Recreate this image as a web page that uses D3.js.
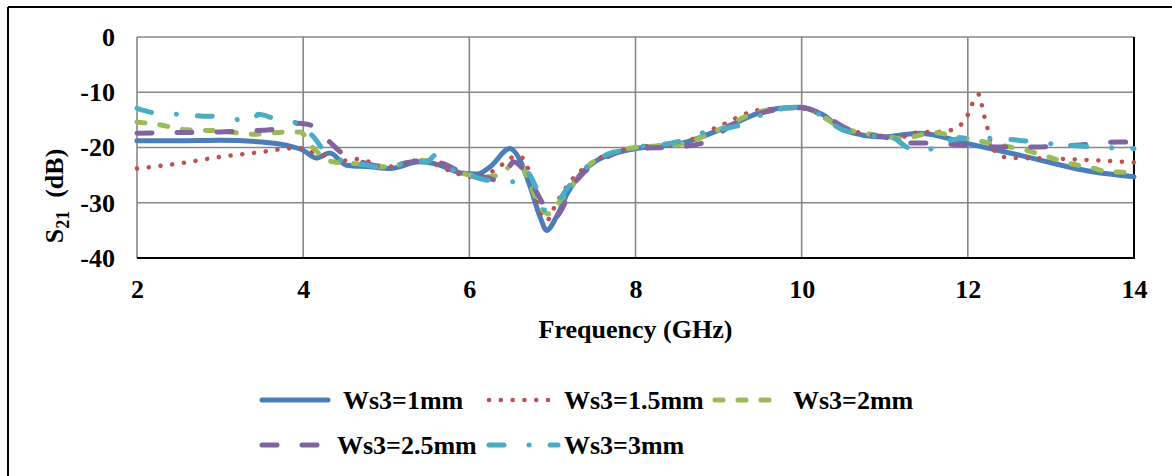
<!DOCTYPE html>
<html>
<head>
<meta charset="utf-8">
<script src="https://cdn.jsdelivr.net/npm/d3@7"></script>
<style>
  html, body { margin: 0; padding: 0; background: #fff; }
  svg { display: block; }
  text { font-family: "Liberation Serif", "Times New Roman", serif; font-weight: bold; fill: #000; }
</style>
</head>
<body>
<svg id="chart" width="1172" height="476"></svg>
<script>
// ---------------- data ----------------
const xTicks = [2, 4, 6, 8, 10, 12, 14];
const yTicks = [0, -10, -20, -30, -40];
const seriesNames = ["Ws3=1mm", "Ws3=1.5mm", "Ws3=2mm", "Ws3=2.5mm", "Ws3=3mm"];
const xTitle = "Frequency (GHz)";

const freq1 = [2, 2.5, 3, 3.5, 3.8, 4.0, 4.16, 4.32, 4.52, 4.8, 5.05, 5.4, 5.6, 5.9, 6.1, 6.25, 6.49, 6.61, 6.73, 6.85, 6.93, 7.05, 7.18, 7.54, 8.0, 8.54, 9.14, 9.53, 9.74, 9.98, 10.26, 10.5, 10.98, 11.42, 12.0, 12.71, 13.5, 14];
const s21_1 = [-18.8, -18.8, -18.7, -19.0, -19.6, -20.5, -21.9, -21.0, -23.2, -23.5, -23.8, -22.6, -23.0, -24.6, -24.8, -23.5, -20.2, -22.3, -27.0, -32.5, -35.0, -32.5, -28.3, -22.3, -20.2, -19.3, -16.0, -13.5, -12.9, -12.7, -14.1, -16.8, -18.1, -17.4, -19.3, -21.7, -24.4, -25.3];

const freq2 = [2, 2.5, 3, 3.5, 3.8, 3.96, 4.1, 4.24, 4.38, 4.65, 5.0, 5.4, 5.85, 6.0, 6.2, 6.35, 6.45, 6.55, 6.65, 6.75, 6.81, 6.93, 7.05, 7.21, 7.5, 8.0, 8.5, 9.0, 9.5, 10.0, 10.5, 11.0, 11.17, 11.3, 11.45, 11.6, 11.75, 11.88, 11.97, 12.03, 12.08, 12.14, 12.17, 12.2, 12.24, 12.27, 12.33, 12.43, 12.6, 13.0, 13.5, 14];
const s21_2 = [-23.8, -22.9, -21.7, -20.8, -20.2, -20.1, -20.8, -21.5, -22.6, -22.1, -23.5, -22.3, -24.7, -25.3, -25.0, -23.5, -22.6, -21.5, -22.0, -26.0, -29.5, -33.2, -30.0, -26.3, -22.5, -20.0, -19.4, -16.2, -13.2, -12.9, -16.5, -18.0, -18.3, -17.6, -17.2, -17.2, -17.0, -16.3, -14.9, -13.1, -11.1, -10.4, -12.4, -14.5, -16.7, -18.7, -20.7, -21.7, -21.9, -22.0, -22.3, -22.7];

const freq3 = [2, 2.24, 2.6, 3.0, 3.4, 3.8, 3.96, 4.12, 4.36, 4.6, 5.0, 5.4, 5.6, 6.0, 6.2, 6.4, 6.5, 6.57, 6.7, 6.85, 6.95, 7.1, 7.5, 8.0, 8.5, 9.0, 9.5, 10.0, 10.5, 11.0, 11.2, 11.6, 11.85, 12.4, 12.7, 12.95, 13.2, 13.5, 13.7, 14];
const s21_3 = [-15.4, -15.8, -16.8, -17.0, -17.6, -17.2, -17.2, -20.1, -22.6, -22.9, -23.5, -22.3, -22.5, -25.0, -25.3, -24.7, -23.0, -22.2, -25.5, -30.7, -32.0, -29.5, -22.5, -20.0, -19.5, -16.8, -13.5, -12.8, -16.5, -18.0, -18.4, -17.3, -18.0, -19.6, -20.5, -21.6, -22.8, -23.7, -24.4, -24.5];

const freq4 = [2, 2.5, 3.0, 3.3, 3.6, 3.9, 4.05, 4.15, 4.32, 4.53, 4.7, 5.0, 5.4, 5.6, 6.0, 6.2, 6.35, 6.45, 6.53, 6.65, 6.77, 6.9, 7.02, 7.12, 7.22, 7.35, 7.6, 8.0, 8.5, 8.78, 8.9, 9.07, 9.5, 10.0, 10.3, 10.55, 10.9, 11.0, 11.2, 11.5, 11.9, 12.35, 12.8, 13.3, 13.8, 14];
const s21_4 = [-17.4, -17.3, -17.2, -17.0, -16.8, -15.6, -15.8, -16.4, -19.0, -21.7, -22.6, -23.5, -22.4, -22.6, -25.0, -25.4, -26.0, -24.5, -22.6, -24.0, -27.0, -30.5, -32.8, -31.0, -27.5, -25.0, -22.2, -20.2, -19.9, -19.3, -18.7, -16.8, -13.8, -12.8, -14.5, -16.6, -17.9, -18.1, -19.2, -19.2, -19.5, -19.9, -19.9, -19.6, -19.0, -19.0];

const freq5 = [2, 2.24, 2.5, 2.76, 3.0, 3.26, 3.4, 3.46, 3.66, 3.93, 4.12, 4.32, 4.53, 4.8, 5.0, 5.3, 5.49, 5.59, 5.68, 5.93, 6.1, 6.25, 6.4, 6.55, 6.68, 6.8, 6.9, 7.05, 7.2, 7.5, 8.0, 8.5, 8.84, 9.1, 9.34, 9.6, 10.0, 10.5, 10.95, 11.1, 11.25, 11.4, 11.5, 11.7, 12.0, 12.2, 12.46, 12.8, 13.2, 13.5, 14];
const s21_5 = [-12.9, -13.8, -14.0, -14.3, -14.4, -15.0, -14.9, -14.0, -14.8, -15.6, -18.0, -21.7, -22.5, -23.3, -23.7, -22.6, -22.6, -21.4, -22.9, -24.7, -25.5, -26.0, -26.1, -26.2, -24.4, -27.1, -31.3, -30.0, -27.0, -22.5, -20.0, -19.0, -17.2, -16.5, -15.6, -13.5, -12.7, -16.8, -18.1, -18.3, -19.8, -20.8, -20.6, -19.1, -18.3, -18.3, -18.5, -19.0, -19.6, -19.9, -20.2];

// ---------------- styles ----------------
const colors = ["#4a7ebb", "#c0504d", "#9bbb59", "#8064a2", "#4bacc6"];
const styles = [
  { w: 5, dash: null },
  { w: 4.5, dash: "0.1 11.7" },
  { w: 5, dash: "8 15" },
  { w: 5, dash: "15 25" },
  { w: 5, dash: "15 25 0.1 21" }
];
const freqs = [freq1, freq2, freq3, freq4, freq5];
const vals = [s21_1, s21_2, s21_3, s21_4, s21_5];

const svg = d3.select("#chart");
const FONT = 26;

// outer frame (top + left visible)
svg.append("line").attr("x1", 8).attr("x2", 1172).attr("y1", 7).attr("y2", 7).attr("stroke", "#000").attr("stroke-width", 2);
svg.append("line").attr("x1", 8).attr("x2", 8).attr("y1", 7).attr("y2", 476).attr("stroke", "#000").attr("stroke-width", 2);

const L = 137, R = 1134, T = 37, B = 258;
const x = d3.scaleLinear().domain([2, 14]).range([L, R]);
const y = d3.scaleLinear().domain([-40, 0]).range([B, T]);

// gridlines
const grid = svg.append("g");
grid.selectAll("line.h").data(yTicks).join("line")
  .attr("x1", L).attr("x2", R).attr("y1", d => y(d)).attr("y2", d => y(d))
  .attr("stroke", "#878787").attr("stroke-width", 1.6);
grid.selectAll("line.v").data(xTicks).join("line")
  .attr("y1", T).attr("y2", B).attr("x1", d => x(d)).attr("x2", d => x(d))
  .attr("stroke", "#878787").attr("stroke-width", 1.6);
// axis lines
svg.append("line").attr("x1", L).attr("x2", R + 1).attr("y1", B).attr("y2", B).attr("stroke", "#000").attr("stroke-width", 2);
svg.append("line").attr("x1", R).attr("x2", R).attr("y1", T).attr("y2", B).attr("stroke", "#000").attr("stroke-width", 2);

// axes labels
const fmt = d => String(d);
const yAxis = svg.append("g").attr("transform", `translate(${L},0)`)
  .call(d3.axisLeft(y).tickValues(yTicks).tickSize(0).tickPadding(22).tickFormat(fmt));
yAxis.select(".domain").remove();
yAxis.selectAll("text").style("font-size", FONT + "px");

const xAxis = svg.append("g").attr("transform", `translate(0,${B})`)
  .call(d3.axisBottom(x).tickValues(xTicks).tickSize(0).tickFormat(fmt));
xAxis.select(".domain").remove();
xAxis.selectAll("text").attr("y", 40).attr("dy", 0).style("font-size", FONT + "px");

svg.append("text").attr("x", (L + R) / 2).attr("y", 338).attr("text-anchor", "middle")
  .style("font-size", FONT + "px").text(xTitle);

// y title with subscript
const yt = svg.append("text").attr("transform", "translate(63,196) rotate(-90)")
  .attr("text-anchor", "middle").style("font-size", FONT + "px");
yt.append("tspan").text("S");
yt.append("tspan").attr("dy", 6).style("font-size", "18px").text("21");
yt.append("tspan").attr("dy", -6).attr("dx", 13).text("(dB)");

// lines
const line = d3.line().x(d => x(d[0])).y(d => y(d[1])).curve(d3.curveMonotoneX);
const plot = svg.append("g");
seriesNames.forEach((name, i) => {
  const pts = freqs[i].map((f, k) => [f, vals[i][k]]);
  plot.append("path").datum(pts)
    .attr("d", line)
    .attr("fill", "none")
    .attr("stroke", colors[i])
    .attr("stroke-width", styles[i].w)
    .attr("stroke-linecap", "round")
    .attr("stroke-linejoin", "round")
    .attr("stroke-dasharray", styles[i].dash);
});

// legend
const legendPos = [
  { x0: 262, x1: 328, tx: 343, y: 400 },
  { x0: 489, x1: 556, tx: 564, y: 400 },
  { x0: 715, x1: 775, tx: 793, y: 400 },
  { x0: 262, x1: 322, tx: 337, y: 445 },
  { x0: 489, x1: 558, tx: 564, y: 445 }
];
const leg = svg.append("g");
seriesNames.forEach((name, i) => {
  const p = legendPos[i];
  leg.append("line").attr("x1", p.x0).attr("x2", p.x1).attr("y1", p.y).attr("y2", p.y)
    .attr("stroke", colors[i]).attr("stroke-width", styles[i].w)
    .attr("stroke-linecap", "round").attr("stroke-dasharray", styles[i].dash);
  leg.append("text").attr("x", p.tx).attr("y", p.y + 9).style("font-size", FONT + "px").text(name);
});
</script>
</body>
</html>
